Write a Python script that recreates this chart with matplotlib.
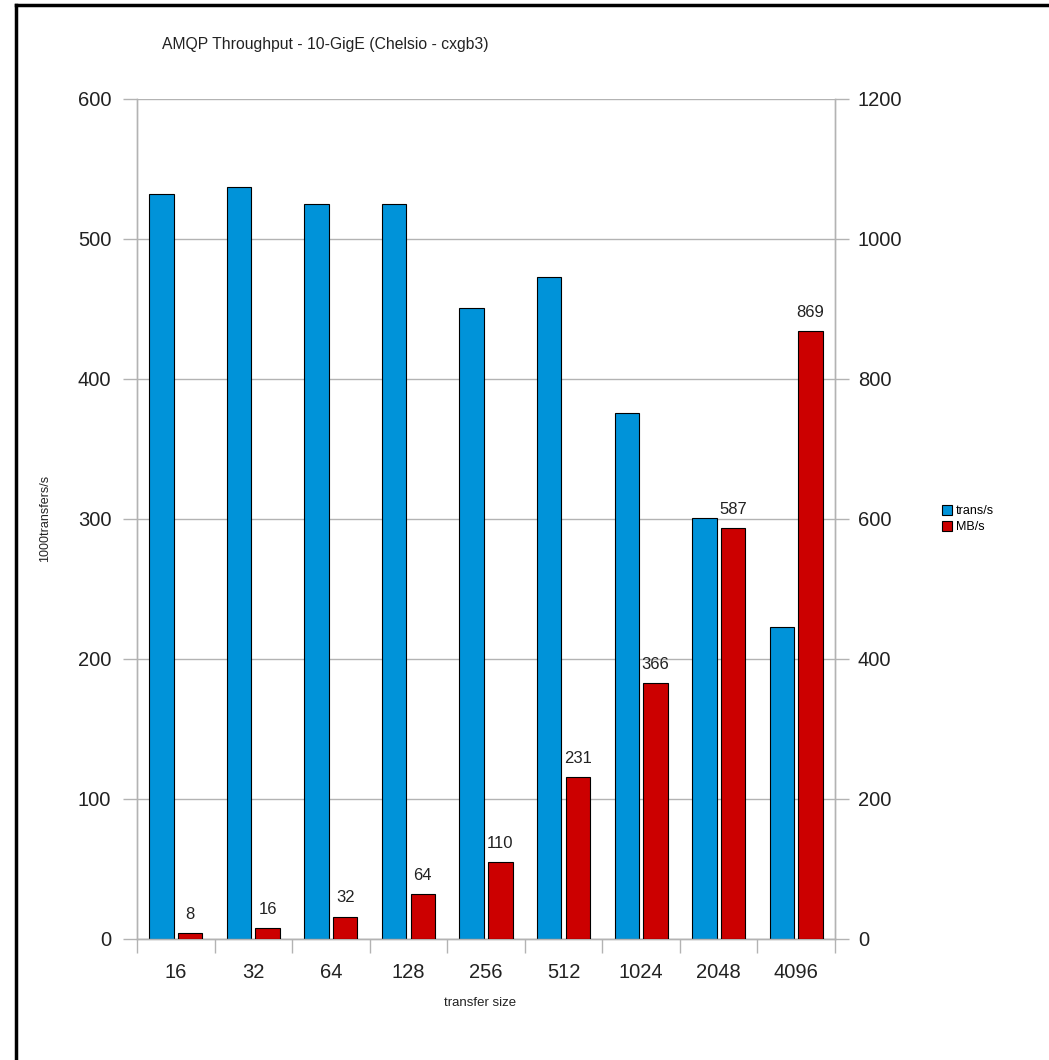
import matplotlib.pyplot as plt
import numpy as np
from matplotlib.patches import Patch

plt.rcParams['font.family'] = ['Liberation Sans', 'DejaVu Sans']

# transfer sizes and measured throughput
sizes = ['16', '32', '64', '128', '256', '512', '1024', '2048', '4096']
trans_per_s = [532, 537, 525, 525, 451, 473, 376, 301, 223]   # x1000 transfers/s
mb_per_s = [8, 16, 32, 64, 110, 231, 366, 587, 869]

BLUE = '#0093d9'
RED = '#cc0000'
GRID = '#b3b3b3'
TEXT = '#222222'

fig = plt.figure(figsize=(10.49, 10.60), dpi=100)
ax = fig.add_axes([137 / 1049, 1 - 939 / 1060, (835 - 137) / 1049, (939 - 99) / 1060])
ax2 = ax.twinx()

x = np.arange(len(sizes))
w = 0.315
off = 0.185

ax.bar(x - off, trans_per_s, w, color=BLUE, edgecolor='black', linewidth=0.8, zorder=3)
bars = ax2.bar(x + off, mb_per_s, w, color=RED, edgecolor='black', linewidth=0.8, zorder=3)

for rect, v in zip(bars, mb_per_s):
    ax2.annotate(str(v), (rect.get_x() + rect.get_width() / 2, rect.get_height()),
                 xytext=(0, 8), textcoords='offset points', ha='center', va='bottom',
                 fontsize=12, color=TEXT)

ax.set_xlim(-0.5, len(sizes) - 0.5)
ax.set_ylim(0, 600)
ax2.set_ylim(0, 1200)
ax.set_yticks(range(0, 601, 100))
ax2.set_yticks(range(0, 1201, 200))

# tick marks between categories, labels centred under each pair
ax.set_xticks(np.arange(-0.5, len(sizes), 1.0))
ax.set_xticklabels([])
ax.set_xticks(x, minor=True)
ax.set_xticklabels(sizes, minor=True)
ax.tick_params(axis='x', which='major', length=10, width=1, color=GRID, direction='out')
ax.tick_params(axis='x', which='minor', length=0, pad=17, labelsize=14.5, labelcolor=TEXT)

ax.tick_params(axis='y', length=10, width=1, color=GRID, pad=8.5, labelsize=14.5, labelcolor=TEXT)
ax2.tick_params(axis='y', length=10, width=1, color=GRID, pad=6.5, labelsize=14.5, labelcolor=TEXT)

ax.yaxis.grid(True, color=GRID, linewidth=1)
ax.set_axisbelow(True)
for a in (ax, ax2):
    a.spines['top'].set_visible(False)
    for side in ('left', 'right', 'bottom'):
        a.spines[side].set_color(GRID)
        a.spines[side].set_linewidth(1)

fig.text(162 / 1049, 1 - 44 / 1060, 'AMQP Throughput - 10-GigE (Chelsio - cxgb3)',
         ha='left', va='center', fontsize=11.3, color=TEXT)
fig.text(45 / 1049, 1 - 518 / 1060, '1000transfers/s', rotation=90,
         ha='center', va='center', fontsize=9, color=TEXT)
fig.text(480 / 1049, 1 - 1003 / 1060, 'transfer size',
         ha='center', va='center', fontsize=9.5, color=TEXT)

handles = [Patch(facecolor=BLUE, edgecolor='black', linewidth=0.8, label='trans/s'),
           Patch(facecolor=RED, edgecolor='black', linewidth=0.8, label='MB/s')]
fig.legend(handles=handles, loc='center left', bbox_to_anchor=(936 / 1049, 1 - 519 / 1060),
           frameon=False, fontsize=9, handlelength=0.8, handleheight=0.9,
           handletextpad=0.3, labelspacing=0.25, borderpad=0)

# outer frame lines
fig.add_artist(plt.Line2D([16 / 1049, 16 / 1049], [0, 1 - 5 / 1060], color='black',
                          linewidth=2.5, transform=fig.transFigure))
fig.add_artist(plt.Line2D([16 / 1049, 1], [1 - 5 / 1060, 1 - 5 / 1060], color='black',
                          linewidth=2.5, transform=fig.transFigure))

fig.savefig('out.png', dpi=100)
